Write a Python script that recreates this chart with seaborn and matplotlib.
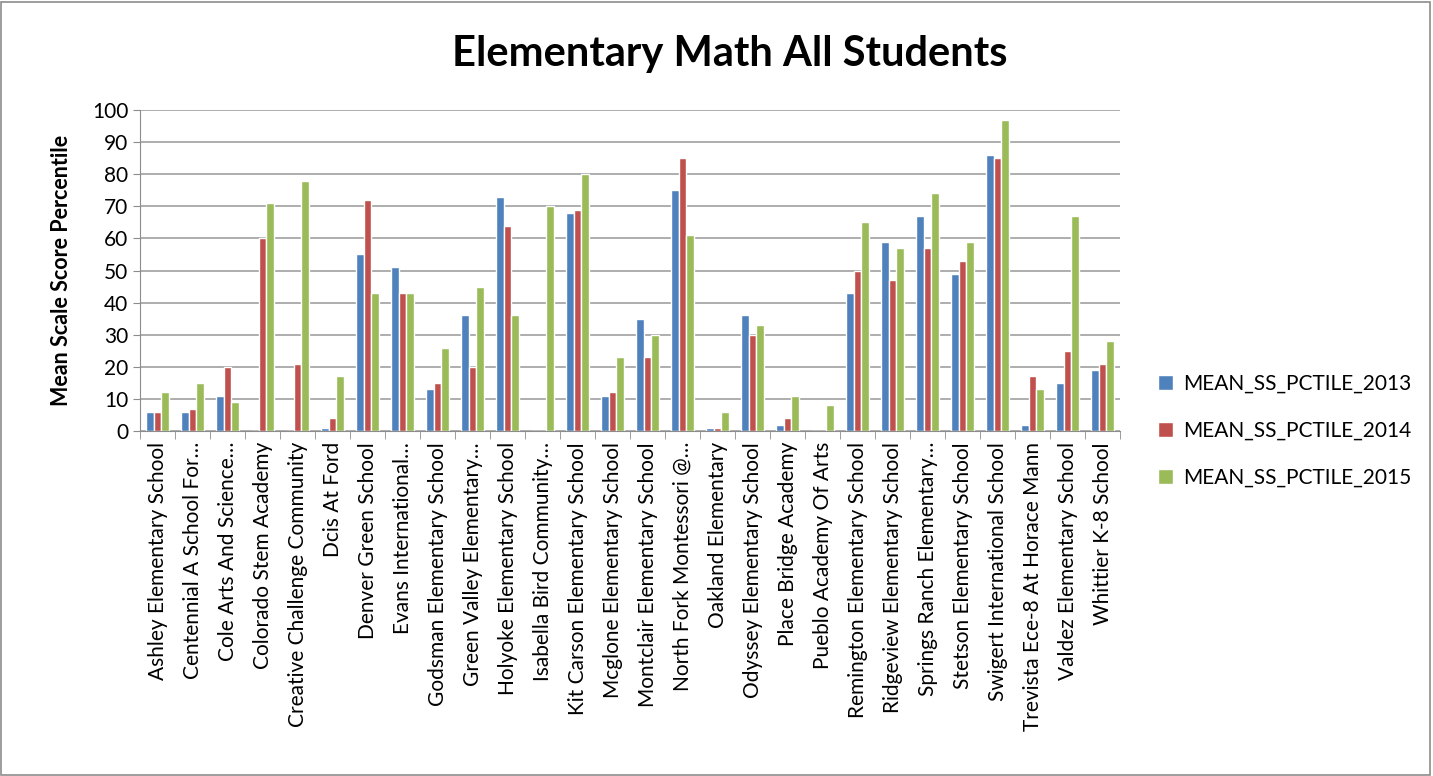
import pandas as pd
import numpy as np
import matplotlib
matplotlib.use("Agg")
import matplotlib.pyplot as plt
import seaborn as sns
from matplotlib.ticker import FixedLocator

schools = ['Ashley Elementary School', 'Centennial A School For\u2026', 'Cole Arts And Science\u2026',
           'Colorado Stem Academy', 'Creative Challenge Community', 'Dcis At Ford',
           'Denver Green School', 'Evans International\u2026', 'Godsman Elementary School',
           'Green Valley Elementary\u2026', 'Holyoke Elementary School', 'Isabella Bird Community\u2026',
           'Kit Carson Elementary School', 'Mcglone Elementary School', 'Montclair Elementary School',
           'North Fork Montessori @\u2026', 'Oakland Elementary', 'Odyssey Elementary School',
           'Place Bridge Academy', 'Pueblo Academy Of Arts', 'Remington Elementary School',
           'Ridgeview Elementary School', 'Springs Ranch Elementary\u2026', 'Stetson Elementary School',
           'Swigert International School', 'Trevista Ece-8 At Horace Mann', 'Valdez Elementary School',
           'Whittier K-8 School']
pct_2013 = [6, 6, 11, 0, 0, 1, 55, 51, 13, 36, 73, 0, 68, 11, 35, 75, 1, 36, 2, 0, 43, 59, 67, 49, 86, 2, 15, 19]
pct_2014 = [6, 7, 20, 60, 21, 4, 72, 43, 15, 20, 64, 0, 69, 12, 23, 85, 1, 30, 4, 0, 50, 47, 57, 53, 85, 17, 25, 21]
pct_2015 = [12, 15, 9, 71, 78, 17, 43, 43, 26, 45, 36, 70, 80, 23, 30, 61, 6, 33, 11, 8, 65, 57, 74, 59, 97, 13, 67, 28]
series = ['MEAN_SS_PCTILE_2013', 'MEAN_SS_PCTILE_2014', 'MEAN_SS_PCTILE_2015']
colors = ['#4F81BD', '#C0504D', '#9BBB59']

df = pd.DataFrame({'School': schools * 3,
                   'Value': pct_2013 + pct_2014 + pct_2015,
                   'Series': np.repeat(series, len(schools))})

sns.set_style('white')
plt.rcParams['font.family'] = ['Lato', 'DejaVu Sans']
plt.rcParams['text.color'] = 'black'
plt.rcParams['xtick.color'] = 'black'
plt.rcParams['ytick.color'] = 'black'
plt.rcParams['axes.labelcolor'] = 'black'

fig = plt.figure(figsize=(14.33, 7.76), dpi=100)
fig.patches.append(plt.Rectangle((0.001, 0.001), 0.997, 0.997, transform=fig.transFigure,
                                 fill=False, edgecolor='#8c8c8c', linewidth=1.2))
ax = fig.add_axes([0.0977, 0.4446, 0.6839, 0.4136])

sns.barplot(data=df, x='School', y='Value', hue='Series', palette=colors, width=0.68,
            saturation=1, ax=ax, legend=True)

ax.set_ylim(0, 100)
ax.set_xlim(-0.5, len(schools) - 0.5)
ax.set_yticks(range(0, 101, 10))
ax.yaxis.grid(True, color='#a0a0a0', linewidth=1.2)
ax.set_axisbelow(True)
for s in ['top', 'right']:
    ax.spines[s].set_visible(False)
ax.spines['left'].set_color('#8c8c8c')
ax.spines['bottom'].set_color('#8c8c8c')
ax.tick_params(axis='y', labelsize=15, length=5, color='#8c8c8c', labelcolor='black', left=True)
ax.set_xticks(range(len(schools)))
ax.set_xticklabels(schools, rotation=90, fontsize=15, color='black')
ax.tick_params(axis='x', which='major', length=0, pad=8)
ax.xaxis.set_minor_locator(FixedLocator(np.arange(-0.5, len(schools), 1)))
ax.tick_params(axis='x', which='minor', length=6, color='#8c8c8c', bottom=True)
ax.set_xlabel('')
ax.set_ylabel('Mean Scale Score Percentile', fontsize=15.5, fontweight='bold', labelpad=14)

fig.suptitle('Elementary Math All Students', fontsize=30, fontweight='bold', x=0.509, y=0.955,
             color='black')

ax.legend(loc='center left', bbox_to_anchor=(1.02, 0.0), frameon=False, fontsize=15,
          handlelength=0.7, handleheight=0.7, labelspacing=1.3, handletextpad=0.5)

fig.savefig('out.png', dpi=100)
